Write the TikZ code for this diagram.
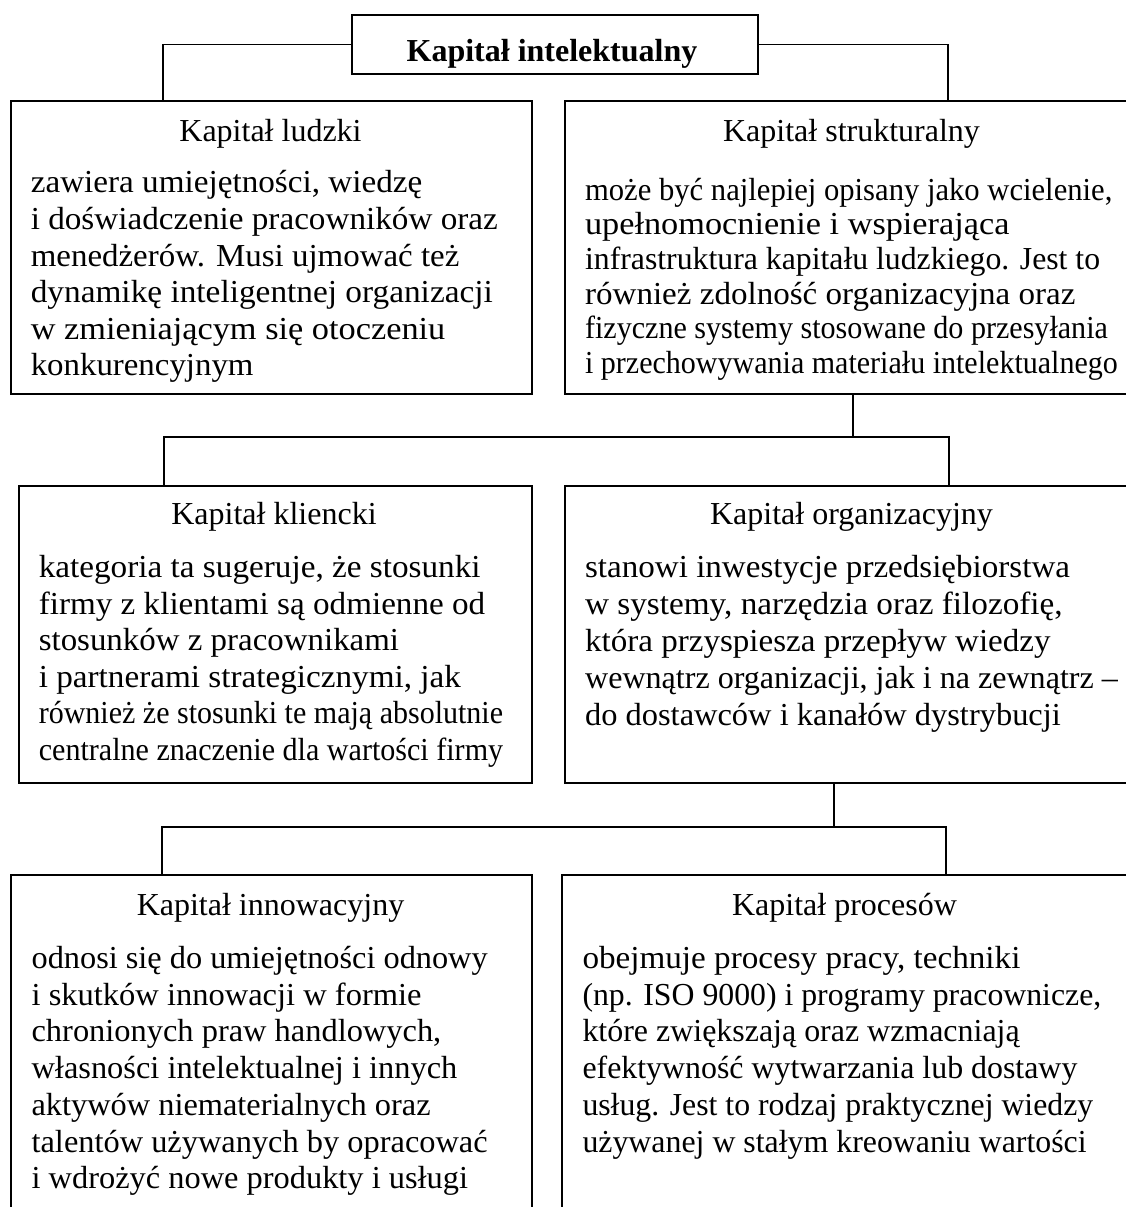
\documentclass[tikz,border=0pt]{standalone}
\usepackage{graphicx}
\usepackage{fontspec}
\setmainfont{Liberation Serif}
% one line of a description, set to a given width
\newcommand\fitline[2]{\resizebox{#1pt}{\height}{#2}}
\begin{document}
\begin{tikzpicture}[x=1pt,y=-1pt,
  box/.style={draw, line width=1.6pt, inner sep=0pt, anchor=north west},
  link/.style={line width=1.4pt},
  head/.style={font=\fontsize{32}{36.8}\selectfont, anchor=base, inner sep=0pt},
  title/.style={font=\fontsize{32}{36.8}\selectfont\bfseries, anchor=base, inner sep=0pt},
  body/.style={font=\fontsize{32}{#1}\selectfont, align=left, anchor=north west, inner sep=0pt},
  body/.default=36.6]
\clip (0,0) rectangle (1126,1207);

% frames
\node[box, minimum width=406pt, minimum height=59pt] (top) at (351,14) {};
\node[box, minimum width=521pt, minimum height=293pt] (ludzki) at (10,100) {};
\node[box, minimum width=575pt, minimum height=293pt] (struk) at (564,100) {};
\node[box, minimum width=513pt, minimum height=297pt] (klient) at (18,485) {};
\node[box, minimum width=575pt, minimum height=297pt] (org) at (564,485) {};
\node[box, minimum width=521pt, minimum height=350pt] (innow) at (10,874) {};
\node[box, minimum width=567pt, minimum height=350pt] (proc) at (561,874) {};

% titles
\node[title] (topT) at (552,62) {Kapitał intelektualny};
\node[head] (ludzkiH) at (270.5,141.7) {Kapitał ludzki};
\node[head] (strukH) at (851.5,141.7) {Kapitał strukturalny};
\node[head] (klientH) at (274,524.3) {Kapitał kliencki};
\node[head] (orgH) at (851.5,524.3) {Kapitał organizacyjny};
\node[head] (innowH) at (270.5,915) {Kapitał innowacyjny};
\node[head] (procH) at (844.5,915) {Kapitał procesów};

% descriptions (node top = first baseline - 0.7 baselineskip)
\node[body] (ludzkiB) at (30.6,167.1) {\strut\fitline{391.5}{zawiera umiejętności, wiedzę}\\
\fitline{467}{i doświadczenie pracowników oraz}\\
\fitline{428.6}{menedżerów. Musi ujmować też}\\
\fitline{462}{dynamikę inteligentnej organizacji}\\
\fitline{414.5}{w zmieniającym się otoczeniu}\\
\fitline{222.7}{konkurencyjnym}};
\node[body=34.7] (strukB) at (584.9,175.7) {\strut\fitline{527.2}{może być najlepiej opisany jako wcielenie,}\\
\fitline{424.3}{upełnomocnienie i wspierająca}\\
\fitline{515}{infrastruktura kapitału ludzkiego. Jest to}\\
\fitline{490.4}{również zdolność organizacyjna oraz}\\
\fitline{522.8}{fizyczne systemy stosowane do przesyłania}\\
\fitline{532.7}{i przechowywania materiału intelektualnego}};
\node[body=36.5] (klientB) at (38.6,551.75) {\strut\fitline{441.8}{kategoria ta sugeruje, że stosunki}\\
\fitline{446.4}{firmy z klientami są odmienne od}\\
\fitline{360.3}{stosunków z pracownikami}\\
\fitline{422.1}{i partnerami strategicznymi, jak}\\
\fitline{464.3}{również że stosunki te mają absolutnie}\\
\fitline{464.3}{centralne znaczenie dla wartości firmy}};
\node[body=36.9] (orgB) at (584.9,551.5) {\strut\fitline{484.9}{stanowi inwestycje przedsiębiorstwa}\\
\fitline{477.6}{w systemy, narzędzia oraz filozofię,}\\
\fitline{465.5}{która przyspiesza przepływ wiedzy}\\
\fitline{532.7}{wewnątrz organizacji, jak i na zewnątrz –}\\
\fitline{475.8}{do dostawców i kanałów dystrybucji}};
\node[body=36.7] (innowB) at (31.4,942.6) {\strut\fitline{456.1}{odnosi się do umiejętności odnowy}\\
\fitline{390}{i skutków innowacji w formie}\\
\fitline{409.7}{chronionych praw handlowych,}\\
\fitline{425.7}{własności intelektualnej i innych}\\
\fitline{399}{aktywów niematerialnych oraz}\\
\fitline{456.1}{talentów używanych by opracować}\\
\fitline{436.5}{i wdrożyć nowe produkty i usługi}};
\node[body=36.7] (procB) at (582.3,942.6) {\strut\fitline{437.9}{obejmuje procesy pracy, techniki}\\
\fitline{518.8}{(np. ISO 9000) i programy pracownicze,}\\
\fitline{437.2}{które zwiększają oraz wzmacniają}\\
\fitline{494.9}{efektywność wytwarzania lub dostawy}\\
\fitline{510.7}{usług. Jest to rodzaj praktycznej wiedzy}\\
\fitline{504.1}{używanej w stałym kreowaniu wartości}};

% junction points
\coordinate (jL) at (163,43);
\coordinate (jR) at (948,43);
\coordinate (b1) at (853,437);
\coordinate (b1L) at (164,437);
\coordinate (b1R) at (949,437);
\coordinate (b2) at (834,827);
\coordinate (b2L) at (162,827);
\coordinate (b2R) at (946,827);

% connectors
\draw[link] (top.west) -| (jL |- ludzki.north);
\draw[link] (top.east) -| (jR |- struk.north);
\draw[link] (struk.south -| b1) -- (b1);
\draw[link] (klient.north -| b1L) |- (b1R) -- (org.north -| b1R);
\draw[link] (org.south -| b2) -- (b2);
\draw[link] (innow.north -| b2L) |- (b2R) -- (proc.north -| b2R);
\end{tikzpicture}
\end{document}
